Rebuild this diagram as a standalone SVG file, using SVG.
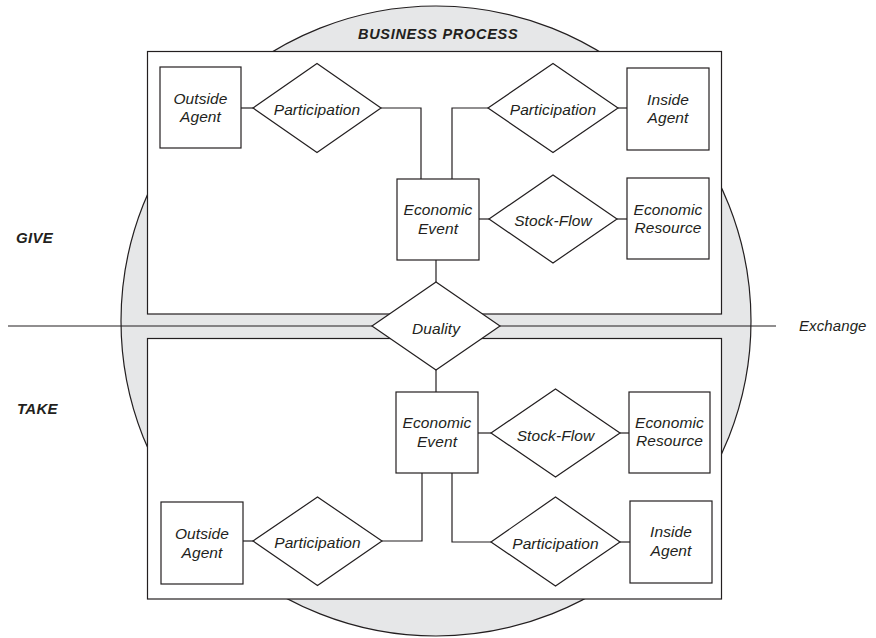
<svg xmlns="http://www.w3.org/2000/svg" width="876" height="638" viewBox="0 0 876 638">
<style>
.s{fill:#fff;stroke:#231f20;stroke-width:1.2}
.c{fill:none;stroke:#231f20;stroke-width:1.2}
text{font-family:"Liberation Sans",Arial,sans-serif;font-style:italic;fill:#231f20;font-size:15.5px;text-anchor:middle;letter-spacing:0.1px}
.b{font-weight:bold;font-size:14.5px;text-anchor:start;letter-spacing:0.7px}
.l{text-anchor:start}
</style>
<rect width="876" height="638" fill="#fff"/>
<g id="process">
<circle cx="436" cy="321" r="315" fill="#e6e7e8" stroke="#231f20" stroke-width="1.2"/>
<text class="b" x="358" y="39">BUSINESS PROCESS</text>
</g>
<g id="give-box"><rect class="s" x="147.5" y="51.5" width="574" height="262.5"/></g>
<g id="take-box"><rect class="s" x="147.5" y="338.5" width="574" height="260.5"/></g>
<g id="labels">
<text class="b" x="16" y="242.5" style="font-size:15px;letter-spacing:0.3px">GIVE</text>
<text class="b" x="17" y="414" style="font-size:15px;letter-spacing:0.3px">TAKE</text>
<text class="l" x="799" y="331" style="font-size:15px">Exchange</text>
</g>
<g id="connectors">
<line class="c" x1="8" y1="326" x2="776" y2="326"/>
<line class="c" x1="241" y1="108" x2="253" y2="108"/>
<polyline class="c" points="381,108 421,108 421,179"/>
<polyline class="c" points="488,108 452,108 452,179"/>
<line class="c" x1="618" y1="108" x2="627" y2="108"/>
<line class="c" x1="479" y1="219" x2="489" y2="219"/>
<line class="c" x1="617" y1="219" x2="627" y2="219"/>
<line class="c" x1="436" y1="260" x2="436" y2="282"/>
<line class="c" x1="436" y1="370" x2="436" y2="392"/>
<line class="c" x1="478" y1="433" x2="491" y2="433"/>
<line class="c" x1="620" y1="433" x2="629" y2="433"/>
<polyline class="c" points="382,541 422,541 422,473"/>
<polyline class="c" points="491,542 452,542 452,473"/>
<line class="c" x1="243" y1="541" x2="253" y2="541"/>
<line class="c" x1="620" y1="542" x2="630" y2="542"/>
</g>
<g id="outside-agent-give"><rect class="s" x="160" y="67" width="81" height="81"/><text x="200.5" y="104">Outside</text><text x="200.5" y="122">Agent</text></g>
<g id="participation-give-out"><polygon class="s" points="253,108 317,63.5 381,108 317,152.5"/><text x="317" y="115">Participation</text></g>
<g id="participation-give-in"><polygon class="s" points="488,108 553,63.5 618,108 553,152.5"/><text x="553" y="115">Participation</text></g>
<g id="inside-agent-give"><rect class="s" x="627" y="68" width="82" height="82"/><text x="668" y="105">Inside</text><text x="668" y="123">Agent</text></g>
<g id="economic-event-give"><rect class="s" x="397" y="179" width="82" height="81"/><text x="438" y="215">Economic</text><text x="438" y="234">Event</text></g>
<g id="stock-flow-give"><polygon class="s" points="489,219 553,175 617,219 553,263"/><text x="553" y="226">Stock-Flow</text></g>
<g id="economic-resource-give"><rect class="s" x="627" y="178" width="82" height="81"/><text x="668" y="215">Economic</text><text x="668" y="233">Resource</text></g>
<g id="duality"><polygon class="s" points="372,326 436,282 500,326 436,370"/><text x="436" y="334">Duality</text></g>
<g id="economic-event-take"><rect class="s" x="396" y="392" width="82" height="81"/><text x="437" y="428">Economic</text><text x="437" y="447">Event</text></g>
<g id="stock-flow-take"><polygon class="s" points="491,433 555.5,389 620,433 555.5,477"/><text x="555.5" y="441">Stock-Flow</text></g>
<g id="economic-resource-take"><rect class="s" x="629" y="392" width="81" height="81"/><text x="669.5" y="428">Economic</text><text x="669.5" y="446">Resource</text></g>
<g id="outside-agent-take"><rect class="s" x="161" y="502" width="82" height="82"/><text x="202" y="539">Outside</text><text x="202" y="558">Agent</text></g>
<g id="participation-take-out"><polygon class="s" points="253,541 317.5,497 382,541 317.5,585.5"/><text x="317.5" y="548">Participation</text></g>
<g id="participation-take-in"><polygon class="s" points="491,542 555.5,497 620,542 555.5,586"/><text x="555.5" y="549">Participation</text></g>
<g id="inside-agent-take"><rect class="s" x="630" y="501" width="82" height="82"/><text x="671" y="537">Inside</text><text x="671" y="556">Agent</text></g>
</svg>
